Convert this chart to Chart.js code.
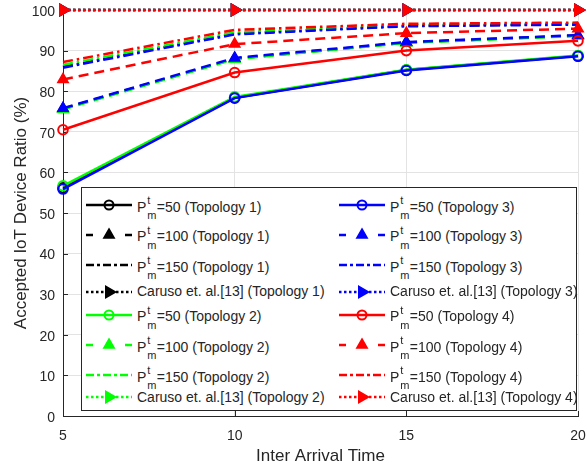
<!DOCTYPE html>
<html>
<head>
<meta charset="utf-8">
<script src="https://cdn.jsdelivr.net/npm/chart.js@4.4.1/dist/chart.umd.min.js"></script>
<style>
body { margin: 0; background: #fff; }
#wrap { position: relative; width: 587px; height: 468px; }
#legendBox {
    position: absolute; left: 81px; top: 187px; width: 496px; height: 224px;
    box-sizing: border-box; border: 1px solid #262626; background: #fff;
    font-family: Arial, "Liberation Sans", Helvetica, sans-serif; font-size: 14px; color: #262626;
}
.row { position: absolute; height: 0; }
.row svg { position: absolute; left: 0; top: -10px; }
.row .txt { position: absolute; left: 51px; top: -7.5px; line-height: 14px; white-space: nowrap; }
.ts { display: inline-block; position: relative; width: 10.5px; height: 14px; }
.ts span { position: absolute; left: 1px; font-size: 11px; line-height: 11px; }
.ts .sup { top: -2.3px; }
.ts .sub { top: 12.7px; }
</style>
</head>
<body>
<div id="wrap">
    <canvas id="ratioChart"></canvas>
    <div id="legendBox"></div>
</div>
<script>
let interArrival = [5, 10, 15, 20];
let topologies = ["Topology 1", "Topology 2", "Topology 3", "Topology 4"];
let yTicks = [0, 10, 20, 30, 40, 50, 60, 70, 80, 90, 100];

let p50Topo1 = [56.2, 78.4, 85.2, 88.7];
let p50Topo2 = [56.7, 78.6, 85.3, 88.8];
let p50Topo3 = [55.9, 78.3, 85.1, 88.6];
let p50Topo4 = [70.5, 84.6, 90.0, 92.4];

let p100Topo1 = [75.7, 88.0, 92.0, 93.7];
let p100Topo2 = [75.5, 87.9, 91.9, 93.6];
let p100Topo3 = [75.8, 88.2, 92.1, 93.8];
let p100Topo4 = [82.9, 91.6, 94.3, 95.4];

let p150Topo1 = [86.0, 94.2, 96.1, 96.5];
let p150Topo2 = [86.5, 94.5, 96.3, 96.7];
let p150Topo3 = [85.8, 94.0, 96.0, 96.4];
let p150Topo4 = [87.2, 95.1, 96.6, 96.9];

let carusoTopo1 = [100, 100, 100, 100];
let carusoTopo2 = [100, 100, 100, 100];
let carusoTopo3 = [100, 100, 100, 100];
let carusoTopo4 = [100, 100, 100, 100];

let colors = ['#000000', '#00ff00', '#0000ff', '#ff0000'];

// line / marker look per series kind
let kinds = {
    p50:    { value: 50,  dash: [],            svgDash: '',        marker: 'circle' },
    p100:   { value: 100, dash: [10, 6],       svgDash: '7,32',    marker: 'triangle' },
    p150:   { value: 150, dash: [10, 4, 2.5, 4], svgDash: '8,3,3,3', marker: 'none' },
    caruso: { value: null, dash: [2.5, 2.5],   svgDash: '2.5,2.5', marker: 'right' }
};

let series = [
    { kind: 'p50', topo: 0, data: p50Topo1 },
    { kind: 'p100', topo: 0, data: p100Topo1 },
    { kind: 'p150', topo: 0, data: p150Topo1 },
    { kind: 'caruso', topo: 0, data: carusoTopo1 },
    { kind: 'p50', topo: 1, data: p50Topo2 },
    { kind: 'p100', topo: 1, data: p100Topo2 },
    { kind: 'p150', topo: 1, data: p150Topo2 },
    { kind: 'caruso', topo: 1, data: carusoTopo2 },
    { kind: 'p50', topo: 2, data: p50Topo3 },
    { kind: 'p100', topo: 2, data: p100Topo3 },
    { kind: 'p150', topo: 2, data: p150Topo3 },
    { kind: 'caruso', topo: 2, data: carusoTopo3 },
    { kind: 'p50', topo: 3, data: p50Topo4 },
    { kind: 'p100', topo: 3, data: p100Topo4 },
    { kind: 'p150', topo: 3, data: p150Topo4 },
    { kind: 'caruso', topo: 3, data: carusoTopo4 }
];

function makeDataset(s) {
    let k = kinds[s.kind];
    let c = colors[s.topo];
    let ds = {
        data: s.data.map((v, i) => ({ x: interArrival[i], y: v })),
        borderColor: c,
        borderWidth: 2.5,
        borderDash: k.dash,
        fill: false,
        tension: 0,
        clip: false,
        order: 3 - s.topo,
        pointRadius: 0,
        pointBorderColor: c,
        pointBackgroundColor: 'transparent'
    };
    if (k.marker == 'circle') {
        ds.pointStyle = 'circle';
        ds.pointRadius = 4.8;
        ds.pointBorderWidth = 2;
    } else if (k.marker == 'triangle') {
        ds.pointStyle = 'triangle';
        ds.pointRadius = 6;
        ds.pointBorderWidth = 1.5;
        ds.pointBackgroundColor = c;
    } else if (k.marker == 'right') {
        ds.pointStyle = 'triangle';
        ds.pointRotation = 90;
        ds.pointRadius = 6.5;
        ds.pointBorderWidth = 1.5;
        ds.pointBackgroundColor = c;
    }
    return ds;
}

// small inward tick marks like the original axes
const inwardTicks = {
    id: 'inwardTicks',
    beforeDatasetsDraw(chart) {
        const { ctx, chartArea, scales } = chart;
        ctx.save();
        ctx.strokeStyle = '#262626';
        ctx.lineWidth = 1;
        ctx.beginPath();
        scales.x.ticks.forEach(t => {
            let px = Math.round(scales.x.getPixelForValue(t.value)) + 0.5;
            ctx.moveTo(px, chartArea.bottom);
            ctx.lineTo(px, chartArea.bottom - 5);
        });
        scales.y.ticks.forEach(t => {
            let py = Math.round(scales.y.getPixelForValue(t.value)) + 0.5;
            ctx.moveTo(chartArea.left, py);
            ctx.lineTo(chartArea.left + 5, py);
        });
        ctx.stroke();
        ctx.restore();
    }
};

Chart.defaults.font.family = 'Arial, "Liberation Sans", Helvetica, sans-serif';
Chart.defaults.color = '#262626';

var ctx = document.getElementById('ratioChart').getContext('2d');
let ratioChart = new Chart(ctx, {
    type: 'line',
    data: { datasets: series.map(makeDataset) },
    plugins: [inwardTicks],
    options: {
        responsive: true,
        maintainAspectRatio: false,
        animation: false,
        layout: { padding: { top: 10, right: 9, left: 0, bottom: 0 } },
        plugins: { legend: { display: false }, tooltip: { enabled: false } },
        scales: {
            x: {
                type: 'linear',
                min: interArrival[0],
                max: interArrival[interArrival.length - 1],
                afterBuildTicks: (scale) => { scale.ticks = interArrival.map(v => ({ value: v })); },
                afterFit: (scale) => {
                    scale.height = 52;
                    scale.paddingLeft = 0;
                    scale.paddingRight = 0;
                },
                grid: { color: '#e3e3e3', drawTicks: false },
                border: { display: true, color: '#262626', width: 1 },
                ticks: { font: { size: 14 }, padding: 12, maxRotation: 0, color: '#262626' },
                title: { display: true, text: 'Inter Arrival Time', font: { size: 17 }, color: '#262626', padding: { top: 0, bottom: 1 } }
            },
            y: {
                min: 0,
                max: 100,
                afterBuildTicks: (scale) => { scale.ticks = yTicks.map(v => ({ value: v })); },
                afterFit: (scale) => {
                    scale.width = 63;
                    scale.paddingTop = 0;
                    scale.paddingBottom = 0;
                },
                grid: { color: '#e3e3e3', drawTicks: false },
                border: { display: true, color: '#262626', width: 1 },
                ticks: { font: { size: 14 }, padding: 8, labelOffset: 2, color: '#262626' },
                title: { display: true, text: 'Accepted IoT Device Ratio (%)', font: { size: 17 }, color: '#262626', padding: { top: 11, bottom: 0 } }
            }
        }
    }
});

// legend drawn as html so P^t_m keeps its stacked super/subscript
let rowCenters = [17, 46.5, 77, 103.7, 126.5, 157, 187, 209];
let colLefts = [4, 257];

function sampleSvg(s) {
    let k = kinds[s.kind];
    let c = colors[s.topo];
    let svg = '<svg width="46" height="20" viewBox="0 0 46 20">';
    svg += '<line x1="0" y1="10" x2="46" y2="10" stroke="' + c + '" stroke-width="2.5"' +
        (k.svgDash ? ' stroke-dasharray="' + k.svgDash + '"' : '') + '/>';
    if (k.marker == 'circle') {
        svg += '<circle cx="23" cy="10" r="4.5" fill="none" stroke="' + c + '" stroke-width="2"/>';
    } else if (k.marker == 'triangle') {
        svg += '<polygon points="23,4 28.2,13 17.8,13" fill="' + c + '" stroke="' + c + '" stroke-width="1.5"/>';
    } else if (k.marker == 'right') {
        svg += '<polygon points="29.5,10 19.75,15.6 19.75,4.4" fill="' + c + '" stroke="' + c + '" stroke-width="1.5"/>';
    }
    return svg + '</svg>';
}

function labelHtml(s) {
    let k = kinds[s.kind];
    if (s.kind == 'caruso') {
        return 'Caruso et. al.[13] (' + topologies[s.topo] + ')';
    }
    return 'P<span class="ts"><span class="sup">t</span><span class="sub">m</span></span>=' +
        k.value + ' (' + topologies[s.topo] + ')';
}

let legendBox = document.getElementById('legendBox');
series.forEach((s, i) => {
    let col = i < 8 ? 0 : 1;
    let rowIndex = i % 8;
    let row = document.createElement('div');
    row.className = 'row';
    row.style.left = colLefts[col] + 'px';
    row.style.top = rowCenters[rowIndex] + 'px';
    row.innerHTML = sampleSvg(s) + '<span class="txt">' + labelHtml(s) + '</span>';
    legendBox.appendChild(row);
});
</script>
</body>
</html>
